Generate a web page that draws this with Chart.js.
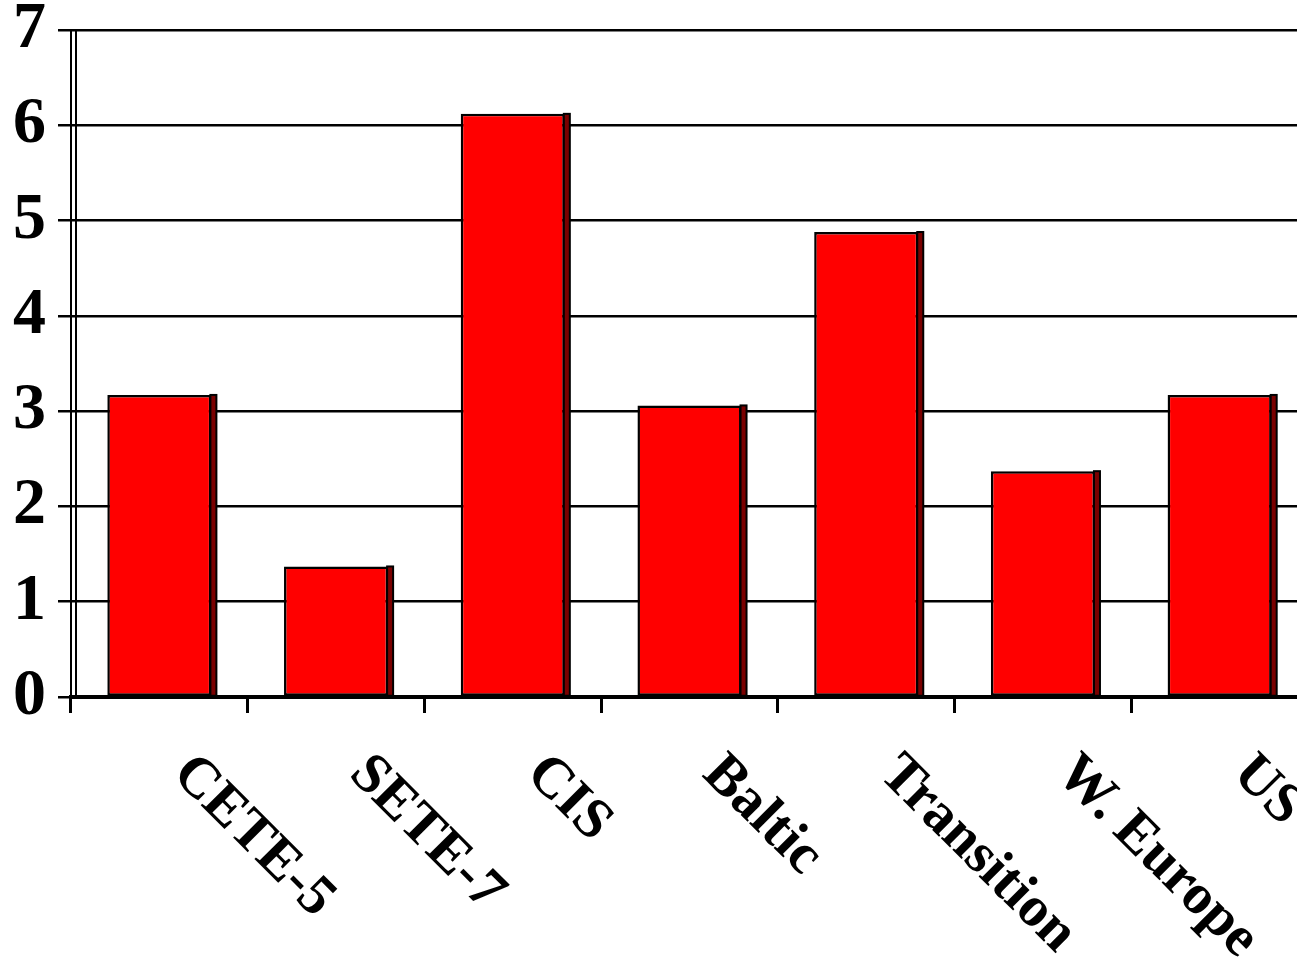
<!DOCTYPE html>
<html>
<head>
<meta charset="utf-8">
<script src="https://cdn.jsdelivr.net/npm/chart.js@4/dist/chart.umd.min.js"></script>
<style>
  html, body { margin: 0; padding: 0; background: #ffffff; overflow: hidden; }
  #wrap { position: absolute; left: 0; top: 0; width: 1310px; height: 978px; }
</style>
</head>
<body>
<div id="wrap"><canvas id="chart"></canvas></div>
<script>
// Regions and their values
const categories = ['CETE-5', 'SETE-7', 'CIS', 'Baltic', 'Transition', 'W. Europe', 'US'];
const values = [3.17, 1.37, 6.12, 3.06, 4.88, 2.37, 3.17];
const yTicks = [0, 1, 2, 3, 4, 5, 6, 7];

const SERIF = "'Liberation Serif', 'Times New Roman', serif";

// Dark side strip on the right of each bar, giving a slight depth effect
const barSide = {
  id: 'barSide',
  afterDatasetsDraw(chart) {
    const ctx = chart.ctx;
    const meta = chart.getDatasetMeta(0);
    ctx.save();
    meta.data.forEach(bar => {
      const p = bar.getProps(['x', 'y', 'base', 'width'], true);
      const right = p.x + p.width / 2;
      ctx.fillStyle = '#7a0000';
      ctx.fillRect(right - 1, p.y, 6, p.base - p.y);
      ctx.strokeStyle = '#000000';
      ctx.lineWidth = 2;
      ctx.strokeRect(right - 1, p.y, 6, p.base - p.y);
    });
    ctx.restore();
  }
};

// Second vertical line beside the value axis
const doubleAxis = {
  id: 'doubleAxis',
  afterDraw(chart) {
    const { ctx, chartArea } = chart;
    ctx.save();
    ctx.strokeStyle = '#000000';
    ctx.lineWidth = 2;
    ctx.beginPath();
    ctx.moveTo(chartArea.left + 5, chartArea.top);
    ctx.lineTo(chartArea.left + 5, chartArea.bottom);
    ctx.stroke();
    ctx.restore();
  }
};

// Category names written diagonally downward below the axis
const slantedLabels = {
  id: 'slantedLabels',
  afterDraw(chart) {
    const { ctx, chartArea } = chart;
    const xScale = chart.scales.x;
    ctx.save();
    ctx.fillStyle = '#000000';
    ctx.font = 'bold 57px ' + SERIF;
    ctx.textAlign = 'left';
    ctx.textBaseline = 'middle';
    categories.forEach((name, i) => {
      const px = xScale.getPixelForValue(i) + 22;
      const py = chartArea.bottom + 68;
      ctx.save();
      ctx.translate(px, py);
      ctx.rotate(Math.PI / 4);
      ctx.fillText(name, 0, 0);
      ctx.restore();
    });
    ctx.restore();
  }
};

new Chart(document.getElementById('chart'), {
  type: 'bar',
  data: {
    labels: categories,
    datasets: [{
      data: values,
      backgroundColor: '#ff0000',
      borderColor: '#000000',
      borderWidth: 2.5,
      borderSkipped: false,
      categoryPercentage: 1.0,
      barPercentage: 0.589
    }]
  },
  options: {
    responsive: true,
    maintainAspectRatio: false,
    animation: false,
    devicePixelRatio: 1,
    layout: { padding: { top: 30, right: 2, bottom: 0, left: 0 } },
    plugins: {
      legend: { display: false },
      tooltip: { enabled: false }
    },
    scales: {
      x: {
        offset: true,
        grid: {
          display: true,
          drawOnChartArea: false,
          drawTicks: true,
          tickLength: 16,
          tickWidth: 3,
          tickColor: '#000000',
          lineWidth: 3,
          color: '#000000',
          offset: true
        },
        border: { display: true, color: '#000000', width: 4 },
        ticks: { callback: () => '', padding: 0 },
        afterFit(scale) { scale.height = 281; }
      },
      y: {
        min: 0,
        max: 7,
        afterBuildTicks(scale) { scale.ticks = yTicks.map(v => ({ value: v })); },
        grid: {
          color: '#000000',
          lineWidth: 2.5,
          drawTicks: true,
          tickLength: 13,
          tickColor: '#000000'
        },
        border: { display: true, color: '#000000', width: 2 },
        ticks: {
          color: '#000000',
          padding: 12,
          font: { family: SERIF, size: 66, weight: 'bold', lineHeight: 0.5 }
        },
        afterFit(scale) { scale.width = 71; }
      }
    }
  },
  plugins: [barSide, doubleAxis, slantedLabels]
});
</script>
</body>
</html>
